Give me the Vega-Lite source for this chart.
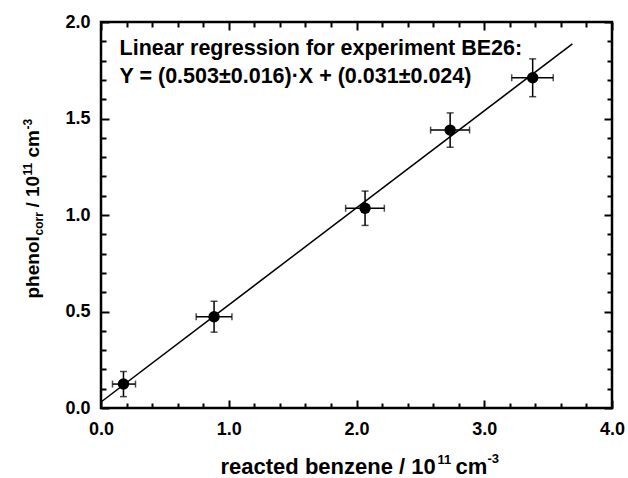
{
  "$schema": "https://vega.github.io/schema/vega-lite/v6.json",
  "autosize": {"type": "none"},
  "padding": {"left": 101, "top": 22, "right": 16, "bottom": 70},
  "width": 511,
  "height": 386,
  "background": "white",
  "config": {
    "view": {"stroke": "black", "strokeWidth": 2.5},
    "axis": {
      "grid": false,
      "domain": false,
      "tickColor": "black",
      "tickWidth": 2,
      "labelFont": "Liberation Sans",
      "labelFontWeight": "bold",
      "labelFontSize": 18,
      "labelColor": "black",
      "labelFlush": false,
      "titleFont": "Liberation Sans",
      "titleFontWeight": "bold",
      "titleColor": "black",
      "titleFontSize": 19
    }
  },
  "datasets": {
    "pts": [
      {"x": 0.176, "y": 0.124, "xlo": 0.09, "xhi": 0.27, "ylo": 0.059, "yhi": 0.189},
      {"x": 0.885, "y": 0.473, "xlo": 0.745, "xhi": 1.025, "ylo": 0.393, "yhi": 0.553},
      {"x": 2.067, "y": 1.035, "xlo": 1.915, "xhi": 2.218, "ylo": 0.946, "yhi": 1.124},
      {"x": 2.733, "y": 1.44, "xlo": 2.58, "xhi": 2.885, "ylo": 1.351, "yhi": 1.529},
      {"x": 3.379, "y": 1.711, "xlo": 3.215, "xhi": 3.54, "ylo": 1.613, "yhi": 1.809}
    ],
    "fit": [
      {"x": 0, "y": 0.031},
      {"x": 3.69, "y": 1.887}
    ],
    "note": [
      {"tx": 0.145, "ty": 1.829, "label": "Linear regression for experiment BE26:"},
      {"tx": 0.145, "ty": 1.684, "label": "Y = (0.503±0.016)·X + (0.031±0.024)"}
    ]
  },
  "resolve": {"axis": {"x": "independent", "y": "independent"}},
  "layer": [
    {
      "data": {"name": "pts"},
      "mark": {"type": "rule", "color": "black", "strokeWidth": 1.5},
      "encoding": {
        "x": {"field": "xlo", "type": "quantitative", "scale": {"domain": [0, 4], "nice": false, "zero": false},
          "axis": {"orient": "bottom", "values": [0, 1, 2, 3, 4], "format": ".1f", "tickSize": -8, "labelPadding": 20,
            "title": "reacted benzene / 10", "titleFontSize": 22, "titleX": 119, "titleY": 65, "titleAlign": "left", "titleBaseline": "alphabetic", "titleAngle": 0}},
        "x2": {"field": "xhi"},
        "y": {"field": "y", "type": "quantitative", "scale": {"domain": [0, 2], "nice": false, "zero": false},
          "axis": {"orient": "left", "values": [0, 0.5, 1, 1.5, 2], "format": ".1f", "tickSize": -8, "labelPadding": 19,
            "title": "phenol", "titleX": -63, "titleY": 276, "titleAlign": "left", "titleBaseline": "alphabetic", "titleAngle": 270}}
      }
    },
    {
      "data": {"name": "pts"},
      "mark": {"type": "rule", "color": "black", "strokeWidth": 1.5},
      "encoding": {
        "x": {"field": "x", "type": "quantitative",
          "axis": {"orient": "top", "values": [0, 1, 2, 3, 4], "tickSize": -8, "labels": false, "title": null}},
        "y": {"field": "ylo", "type": "quantitative",
          "axis": {"orient": "right", "values": [0, 0.5, 1, 1.5, 2], "tickSize": -8, "labels": false, "title": null}},
        "y2": {"field": "yhi"}
      }
    },
    {
      "data": {"name": "pts"},
      "mark": {"type": "tick", "orient": "vertical", "color": "black", "size": 7, "thickness": 1.5},
      "encoding": {
        "x": {"field": "xlo", "type": "quantitative",
          "axis": {"orient": "bottom", "values": [0.2, 0.4, 0.6, 0.8, 1.2, 1.4, 1.6, 1.8, 2.2, 2.4, 2.6, 2.8, 3.2, 3.4, 3.6, 3.8], "tickSize": -5, "labels": false, "title": null}},
        "y": {"field": "y", "type": "quantitative",
          "axis": {"orient": "left", "values": [0.1, 0.2, 0.3, 0.4, 0.6, 0.7, 0.8, 0.9, 1.1, 1.2, 1.3, 1.4, 1.6, 1.7, 1.8, 1.9], "tickSize": -5, "labels": false, "title": null}}
      }
    },
    {
      "data": {"name": "pts"},
      "mark": {"type": "tick", "orient": "vertical", "color": "black", "size": 7, "thickness": 1.5},
      "encoding": {
        "x": {"field": "xhi", "type": "quantitative",
          "axis": {"orient": "top", "values": [0.2, 0.4, 0.6, 0.8, 1.2, 1.4, 1.6, 1.8, 2.2, 2.4, 2.6, 2.8, 3.2, 3.4, 3.6, 3.8], "tickSize": -5, "labels": false, "title": null}},
        "y": {"field": "y", "type": "quantitative",
          "axis": {"orient": "right", "values": [0.1, 0.2, 0.3, 0.4, 0.6, 0.7, 0.8, 0.9, 1.1, 1.2, 1.3, 1.4, 1.6, 1.7, 1.8, 1.9], "tickSize": -5, "labels": false, "title": null}}
      }
    },
    {
      "data": {"name": "pts"},
      "mark": {"type": "tick", "orient": "horizontal", "color": "black", "size": 7, "thickness": 1.5},
      "encoding": {
        "x": {"field": "x", "type": "quantitative",
          "axis": {"orient": "bottom", "values": [], "ticks": false, "labels": false,
            "title": "11", "titleFontSize": 13, "titleX": 336, "titleY": 55, "titleAlign": "left", "titleBaseline": "alphabetic", "titleAngle": 0}},
        "y": {"field": "ylo", "type": "quantitative",
          "axis": {"orient": "left", "values": [], "ticks": false, "labels": false,
            "title": "corr", "titleFontSize": 12, "titleX": -59, "titleY": 213, "titleAlign": "left", "titleBaseline": "alphabetic", "titleAngle": 270}}
      }
    },
    {
      "data": {"name": "pts"},
      "mark": {"type": "tick", "orient": "horizontal", "color": "black", "size": 7, "thickness": 1.5},
      "encoding": {
        "x": {"field": "x", "type": "quantitative",
          "axis": {"orient": "bottom", "values": [], "ticks": false, "labels": false,
            "title": "cm", "titleFontSize": 22, "titleX": 354, "titleY": 65, "titleAlign": "left", "titleBaseline": "alphabetic", "titleAngle": 0}},
        "y": {"field": "yhi", "type": "quantitative",
          "axis": {"orient": "left", "values": [], "ticks": false, "labels": false,
            "title": "/ 10", "titleX": -63, "titleY": 185, "titleAlign": "left", "titleBaseline": "alphabetic", "titleAngle": 270}}
      }
    },
    {
      "data": {"name": "pts"},
      "mark": {"type": "point", "filled": true, "color": "black", "opacity": 1, "size": 130, "shape": "circle"},
      "encoding": {
        "x": {"field": "x", "type": "quantitative",
          "axis": {"orient": "bottom", "values": [], "ticks": false, "labels": false,
            "title": "-3", "titleFontSize": 13, "titleX": 386, "titleY": 54, "titleAlign": "left", "titleBaseline": "alphabetic", "titleAngle": 0}},
        "y": {"field": "y", "type": "quantitative",
          "axis": {"orient": "left", "values": [], "ticks": false, "labels": false,
            "title": "11", "titleFontSize": 12, "titleX": -70, "titleY": 153, "titleAlign": "left", "titleBaseline": "alphabetic", "titleAngle": 270}}
      }
    },
    {
      "data": {"name": "fit"},
      "mark": {"type": "line", "color": "black", "strokeWidth": 1.5},
      "encoding": {
        "x": {"field": "x", "type": "quantitative", "axis": null},
        "y": {"field": "y", "type": "quantitative",
          "axis": {"orient": "left", "values": [], "ticks": false, "labels": false,
            "title": "cm", "titleX": -63, "titleY": 135, "titleAlign": "left", "titleBaseline": "alphabetic", "titleAngle": 270}}
      }
    },
    {
      "data": {"name": "note"},
      "mark": {"type": "text", "align": "left", "baseline": "alphabetic", "font": "Liberation Sans", "fontWeight": "bold", "fontSize": 21.5, "color": "black"},
      "encoding": {
        "x": {"field": "tx", "type": "quantitative", "axis": null},
        "y": {"field": "ty", "type": "quantitative",
          "axis": {"orient": "left", "values": [], "ticks": false, "labels": false,
            "title": "-3", "titleFontSize": 12, "titleX": -70, "titleY": 107, "titleAlign": "left", "titleBaseline": "alphabetic", "titleAngle": 270}},
        "text": {"field": "label"}
      }
    }
  ]
}
